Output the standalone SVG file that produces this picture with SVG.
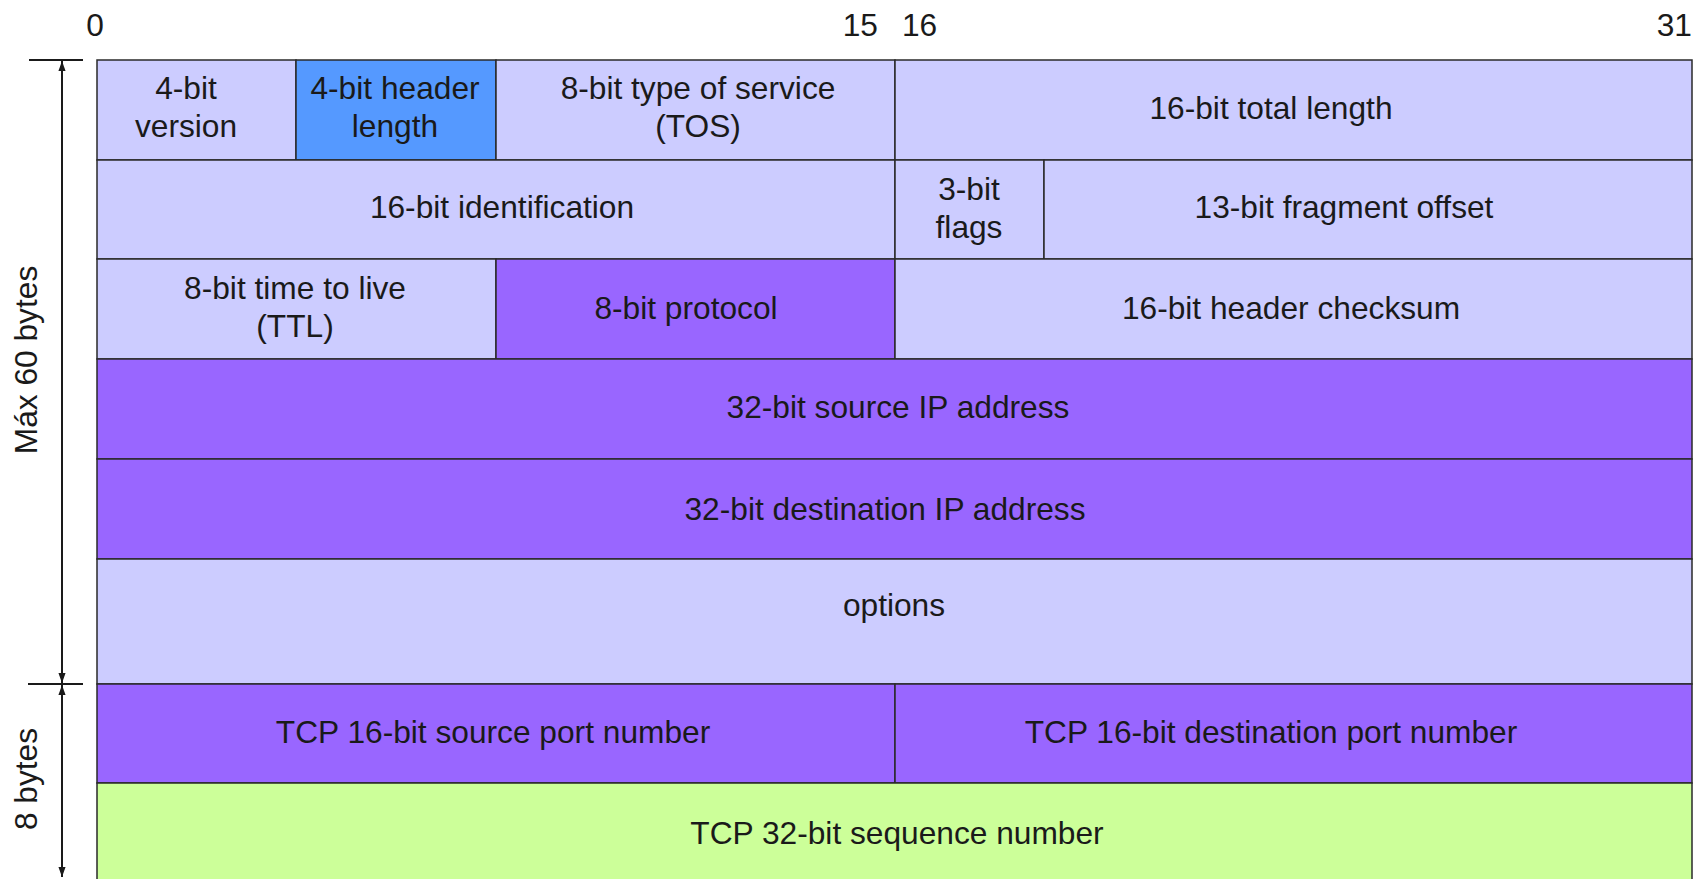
<svg xmlns="http://www.w3.org/2000/svg" width="1694" height="879" viewBox="0 0 1694 879">
  <style>
    .cell { stroke: #2a2a2a; stroke-width: 1.5; }
    .lav { fill: #CCCCFF; }
    .blue { fill: #5599FF; }
    .purple { fill: #9966FF; }
    .green { fill: #CCFF99; }
    text { font-family: "Liberation Sans", Arial, sans-serif; font-size: 31.7px; fill: #1a1a1a; }
    .c { text-anchor: middle; }
    .dim { stroke: #1a1a1a; stroke-width: 2; fill: none; }
  </style>
  <defs>
    <marker id="arrowEnd" markerWidth="10" markerHeight="14" refX="14" refY="5" orient="auto" markerUnits="userSpaceOnUse" viewBox="0 0 14 10">
      <path d="M0,0 L14,5 L0,10 Z" fill="#1a1a1a"/>
    </marker>
    <marker id="arrowStart" markerWidth="10" markerHeight="14" refX="0" refY="5" orient="auto" markerUnits="userSpaceOnUse" viewBox="0 0 14 10">
      <path d="M14,0 L0,5 L14,10 Z" fill="#1a1a1a"/>
    </marker>
  </defs>
  <rect width="1694" height="879" fill="#ffffff"/>

  <!-- bit position ruler -->
  <g id="ruler">
    <text x="95" y="36" class="c">0</text>
    <text x="878" y="36" text-anchor="end">15</text>
    <text x="902" y="36">16</text>
    <text x="1692" y="36" text-anchor="end">31</text>
  </g>

  <!-- row 1 -->
  <g id="version">
    <rect class="cell lav" x="97" y="60" width="199" height="100"/>
    <text class="c" x="186" y="99">4-bit</text>
    <text class="c" x="186" y="137">version</text>
  </g>
  <g id="header-length">
    <rect class="cell blue" x="296" y="60" width="200" height="100"/>
    <text class="c" x="395" y="99">4-bit header</text>
    <text class="c" x="395" y="137">length</text>
  </g>
  <g id="tos">
    <rect class="cell lav" x="496" y="60" width="399" height="100"/>
    <text class="c" x="698" y="99">8-bit type of service</text>
    <text class="c" x="698" y="137">(TOS)</text>
  </g>
  <g id="total-length">
    <rect class="cell lav" x="895" y="60" width="797" height="100"/>
    <text class="c" x="1271" y="119">16-bit total length</text>
  </g>

  <!-- row 2 -->
  <g id="identification">
    <rect class="cell lav" x="97" y="160" width="798" height="99"/>
    <text class="c" x="502" y="218">16-bit identification</text>
  </g>
  <g id="flags">
    <rect class="cell lav" x="895" y="160" width="149" height="99"/>
    <text class="c" x="969" y="200">3-bit</text>
    <text class="c" x="969" y="238">flags</text>
  </g>
  <g id="fragment-offset">
    <rect class="cell lav" x="1044" y="160" width="648" height="99"/>
    <text class="c" x="1344" y="218">13-bit fragment offset</text>
  </g>

  <!-- row 3 -->
  <g id="ttl">
    <rect class="cell lav" x="97" y="259" width="399" height="100"/>
    <text class="c" x="295" y="299">8-bit time to live</text>
    <text class="c" x="295" y="337">(TTL)</text>
  </g>
  <g id="protocol">
    <rect class="cell purple" x="496" y="259" width="399" height="100"/>
    <text class="c" x="686" y="319">8-bit protocol</text>
  </g>
  <g id="checksum">
    <rect class="cell lav" x="895" y="259" width="797" height="100"/>
    <text class="c" x="1291" y="319">16-bit header checksum</text>
  </g>

  <!-- rows 4-6 -->
  <g id="source-ip">
    <rect class="cell purple" x="97" y="359" width="1595" height="100"/>
    <text class="c" x="898" y="418">32-bit source IP address</text>
  </g>
  <g id="destination-ip">
    <rect class="cell purple" x="97" y="459" width="1595" height="100"/>
    <text class="c" x="885" y="520">32-bit destination IP address</text>
  </g>
  <g id="options">
    <rect class="cell lav" x="97" y="559" width="1595" height="125"/>
    <text class="c" x="894" y="616">options</text>
  </g>

  <!-- TCP header start -->
  <g id="tcp-source-port">
    <rect class="cell purple" x="97" y="684" width="798" height="99"/>
    <text class="c" x="493" y="743">TCP 16-bit source port number</text>
  </g>
  <g id="tcp-destination-port">
    <rect class="cell purple" x="895" y="684" width="797" height="99"/>
    <text class="c" x="1271" y="743">TCP 16-bit destination port number</text>
  </g>
  <g id="tcp-sequence">
    <rect class="cell green" x="97" y="783" width="1595" height="110"/>
    <text class="c" x="897" y="844">TCP 32-bit sequence number</text>
  </g>

  <!-- size dimension lines -->
  <g id="connectors">
    <line class="dim" x1="29" y1="60" x2="83" y2="60"/>
    <line class="dim" x1="28" y1="684" x2="83" y2="684"/>
    <line class="dim" x1="62" y1="61" x2="62" y2="683" marker-start="url(#arrowStart)" marker-end="url(#arrowEnd)"/>
    <line class="dim" x1="62" y1="685" x2="62" y2="877" marker-start="url(#arrowStart)" marker-end="url(#arrowEnd)"/>
  </g>

  <g id="size-labels">
    <text class="c" transform="translate(37,360) rotate(-90)">Máx 60 bytes</text>
    <text class="c" transform="translate(37,779) rotate(-90)">8 bytes</text>
  </g>
</svg>
